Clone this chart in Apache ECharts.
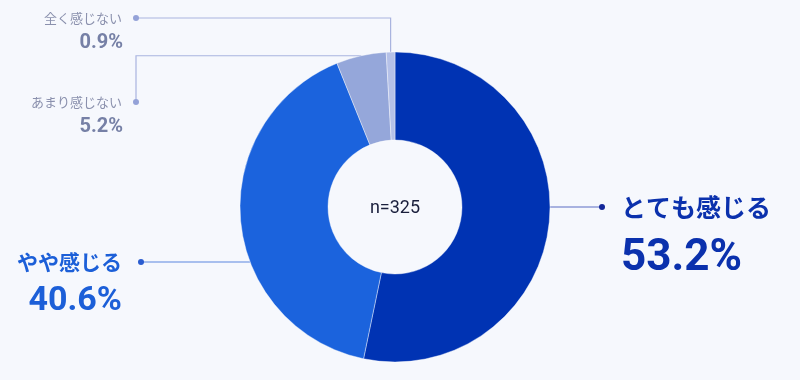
<!DOCTYPE html>
<html>
<head>
<meta charset="utf-8">
<script src="https://cdn.jsdelivr.net/npm/echarts@6/dist/echarts.min.js"></script>
<style>
html,body{margin:0;padding:0;background:#f6f8fd;}
#main{width:800px;height:380px;}
</style>
</head>
<body>
<div id="main"></div>
<script>
// ---- data ----
const categories = ['とても感じる', 'やや感じる', 'あまり感じない', '全く感じない'];
const values = [53.2, 40.6, 5.2, 0.9];
const valueLabels = ['53.2%', '40.6%', '5.2%', '0.9%'];
const sampleLabel = 'n=325';

// ---- style ----
const sliceColors = ['#0033b3', '#1b63dd', '#95a7da', '#b5c1e8'];
const nameColors = ['#0b31ad', '#1c5fd8', '#8a90ad', '#8a90ad'];
const valueColors = ['#0b31ad', '#1c5fd8', '#7680a6', '#7680a6'];
const lineColors = ['#5a6cc4', '#5a86e0', '#a9b4df', '#a9b4df'];
const dotColors = ['#13279a', '#2a5cd0', '#94a2d8', '#94a2d8'];
const FONT = '"Noto Sans CJK JP", "Noto Sans", sans-serif';
const NUMFONT = 'Roboto, "Noto Sans", sans-serif';

const CX = 395, CY = 207, R_IN = 67, R_OUT = 155;

// label anchor (dot centre) for each slice
const dots = [
  { x: 602, y: CY },        // right
  { x: 141, y: CY + 55 },   // left
  { x: 136, y: 102 },       // あまり
  { x: 136, y: 18 }         // 全く
];

const total = values.reduce((a, b) => a + b, 0);
function midPoint(i) {
  let before = 0;
  for (let k = 0; k < i; k++) before += values[k];
  const frac = (before + values[i] / 2) / total;
  const th = frac * Math.PI * 2;
  return [CX + R_OUT * Math.sin(th), CY - R_OUT * Math.cos(th)];
}

const rich = {};
const layouts = [
  { big: true, side: 'right', nameSize: 25, valSize: 44, l1: 36, l2: 67, gap: 16, gap2: 22 },
  { big: true, side: 'left', nameSize: 21, valSize: 34, l1: 30, l2: 48, gap: 16, gap2: 22 },
  { big: false, side: 'left', nameSize: 13, valSize: 20, l1: 20, l2: 30, gap: 11, gap2: 16 },
  { big: false, side: 'left', nameSize: 13, valSize: 20, l1: 20, l2: 30, gap: 11, gap2: 16 }
];
layouts.forEach((L, i) => {
  rich['dot' + i] = { width: 6, height: 6, borderRadius: 3, backgroundColor: dotColors[i] };
  rich['g' + i] = { width: L.gap };
  rich['gb' + i] = { width: L.gap2 };
  rich['n' + i] = { fontFamily: FONT, fontSize: L.nameSize, fontWeight: L.big ? 'bold' : 'normal', color: nameColors[i], lineHeight: L.l1 };
  rich['v' + i] = { fontFamily: NUMFONT, fontSize: L.valSize, fontWeight: 'bold', color: valueColors[i], lineHeight: L.l2 };
});

const data = categories.map((name, i) => ({
  name: name,
  value: values[i],
  itemStyle: { color: sliceColors[i] },
  labelLine: { lineStyle: { color: lineColors[i], width: 1.2 } }
}));

const chart = echarts.init(document.getElementById('main'), null, { renderer: 'canvas' });
chart.setOption({
  backgroundColor: '#f6f8fd',
  animation: false,
  graphic: [{
    type: 'text',
    x: CX, y: CY + 1,
    style: { text: sampleLabel, fontFamily: NUMFONT, fontSize: 18, fill: '#1a1f3c', align: 'center', verticalAlign: 'middle' }
  }],
  series: [{
    type: 'pie',
    center: [CX, CY],
    radius: [R_IN, R_OUT],
    startAngle: 90,
    clockwise: true,
    avoidLabelOverlap: false,
    itemStyle: { borderColor: 'rgba(255,255,255,0.4)', borderWidth: 1 },
    emphasis: { disabled: true },
    data: data,
    label: {
      show: true,
      position: 'outside',
      rich: rich,
      formatter: function (p) {
        const i = p.dataIndex;
        if (layouts[i].side === 'right') {
          return '{dot' + i + '|}{g' + i + '|}{n' + i + '|' + categories[i] + '}\n{gb' + i + '|}{v' + i + '|' + valueLabels[i] + '}';
        }
        return '{n' + i + '|' + categories[i] + '}{g' + i + '|}{dot' + i + '|}\n{v' + i + '|' + valueLabels[i] + '}{gb' + i + '|}';
      }
    },
    labelLine: { show: true, smooth: false },
    labelLayout: function (p) {
      const i = p.dataIndex;
      const L = layouts[i];
      const d = dots[i];
      let pts;
      if (i === 0) {
        pts = [[CX + R_OUT, CY], [d.x, d.y]];
      } else if (i === 1) {
        const dy = d.y - CY;
        pts = [[CX - Math.sqrt(R_OUT * R_OUT - dy * dy), d.y], [d.x, d.y]];
      } else if (i === 2) {
        const m = midPoint(i);
        pts = [m, [d.x, m[1]], [d.x, d.y]];
      } else {
        const m = midPoint(i);
        pts = [m, [m[0], d.y], [d.x, d.y]];
      }
      return {
        x: L.side === 'right' ? d.x - 3 : d.x + 3,
        y: d.y - L.l1 / 2,
        align: L.side === 'right' ? 'left' : 'right',
        verticalAlign: 'top',
        labelLinePoints: pts
      };
    }
  }]
});
</script>
</body>
</html>
